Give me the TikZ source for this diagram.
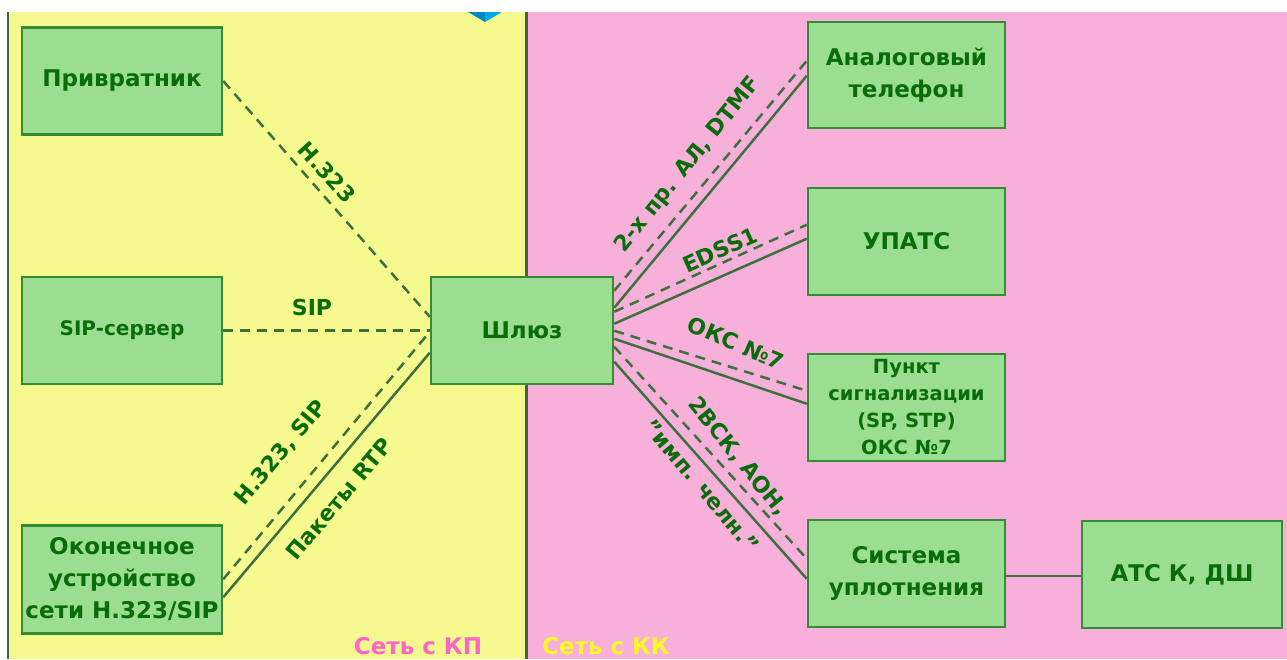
\documentclass[tikz,border=0pt]{standalone}
\usepackage{fontspec}
\setmainfont{DejaVu Sans}
\usetikzlibrary{calc}
\definecolor{yel}{RGB}{246,250,142}
\definecolor{pnk}{RGB}{246,176,218}
\definecolor{boxfill}{RGB}{155,222,145}
\definecolor{boxline}{RGB}{52,140,52}
\definecolor{txt}{RGB}{8,108,8}
\definecolor{wire}{RGB}{62,112,62}
\definecolor{divider}{RGB}{62,102,62}
\definecolor{kp}{RGB}{255,100,200}
\definecolor{kk}{RGB}{255,248,40}
\definecolor{cubeL}{RGB}{0,135,200}
\definecolor{cubeR}{RGB}{0,170,230}
\begin{document}
\begin{tikzpicture}[x=1pt,y=-1pt,
  box/.style={draw=boxline, line width=2.5pt, fill=boxfill, minimum width=200pt,
    minimum height=107pt, inner sep=0pt, align=center, text=txt,
    font=\bfseries\fontsize{23}{32}\selectfont},
  sipbox/.style={box, font=\bfseries\fontsize{20}{27}\selectfont},
  stpbox/.style={box, font=\bfseries\fontsize{19.5}{27}\selectfont},
  sig/.style={draw=wire, line width=2.5pt, dash pattern=on 10pt off 7pt},
  media/.style={draw=wire, line width=2.5pt},
  lbl/.style={text=txt, font=\bfseries\fontsize{22}{24}\selectfont, inner sep=0pt},
  zone/.style={font=\bfseries\fontsize{23}{24}\selectfont, inner sep=0pt}]
\useasboundingbox (0,0) rectangle (1287,659);
\fill[white] (0,0) rectangle (1287,659);

% two network zones
\fill[yel] (8,12) rectangle (527,659);
\fill[pnk] (527,12) rectangle (1287,659);
\draw[divider, line width=2.5pt] (8,12) -- (8,659);
\draw[divider, line width=2.5pt] (526.5,12) -- (526.5,659);

% corner of the cube icon at the top edge
\fill[cubeL] (468,12) -- (485,22) -- (485,12) -- cycle;
\fill[cubeR] (485,12) -- (485,22) -- (502,12) -- cycle;

% packet-network side
\node[box] (gk) at (122,81) {Привратник};
\node[sipbox] (sip) at (122,330.5) {SIP-сервер};
\node[box, minimum height=108pt] (term) at (122,579.5) {Оконечное\\устройство\\сети H.323/SIP};

% gateway
\node[box, minimum width=182pt] (gw) at (522,330.5) {Шлюз};

% circuit-network side
\node[box, minimum width=197pt, minimum height=106pt] (tel) at (906.5,75) {Аналоговый\\телефон};
\node[box, minimum width=197pt] (pbx) at (906.5,241.5) {УПАТС};
\node[stpbox, minimum width=197pt] (stp) at (906.5,407.5) {Пункт\\сигнализации\\(SP, STP)\\ОКС №7};
\node[box, minimum width=197pt] (mux) at (906.5,573.5) {Система\\уплотнения};
\node[box] (ats) at (1182,574.5) {АТС К, ДШ};

% links to the gateway, left side
\draw[sig] (gk.east) -- ($(gw.north west)+(0,41)$);
\draw[sig] (sip.east) -- (gw.west);
\draw[sig] ($(term.north east)+(0,55)$) -- ($(gw.north west)+(0,56)$);
\draw[media] ($(term.north east)+(0,73)$) -- ($(gw.north west)+(0,77)$);

% links from the gateway, right side
\draw[sig] ($(gw.north east)+(0,15)$) -- ($(tel.north west)+(0,40)$);
\draw[media] ($(gw.north east)+(0,32)$) -- ($(tel.north west)+(0,55)$);
\draw[sig] ($(gw.north east)+(0,36)$) -- ($(pbx.north west)+(0,38)$);
\draw[media] ($(gw.north east)+(0,48)$) -- ($(pbx.north west)+(0,52)$);
\draw[sig] ($(gw.north east)+(0,55)$) -- ($(stp.north west)+(0,38)$);
\draw[media] ($(gw.north east)+(0,63)$) -- ($(stp.north west)+(0,51)$);
\draw[sig] ($(gw.north east)+(0,71)$) -- ($(mux.north west)+(0,40)$);
\draw[media] ($(gw.north east)+(0,86)$) -- ($(mux.north west)+(0,60)$);
\draw[media] ($(mux.north east)+(0,57)$) -- ($(ats.north west)+(0,56)$);

% protocol labels
\node[lbl, rotate=-48] (lh323) at (327,172) {H.323};
\node[lbl] (lsip) at (312,307) {SIP};
\node[lbl, rotate=50] (lsig) at (281,453) {H.323, SIP};
\node[lbl, rotate=50] (lrtp) at (339,499) {Пакеты RTP};
\node[lbl, rotate=51] (lal) at (688,165) {2-х пр. АЛ, DTMF};
\node[lbl, rotate=24] (ledss) at (720,250) {EDSS1};
\node[lbl, rotate=-23] (loks) at (736,343) {ОКС №7};
\node[lbl, rotate=-51] (lvsk) at (738,457) {2ВСК, АОН,};
\node[lbl, rotate=-50] (limp) at (702,486) {"имп. челн."};

% zone captions
\node[zone, text=kp] (zkp) at (418,646) {Сеть с КП};
\node[zone, text=kk] (zkk) at (606,646) {Сеть с КК};
\end{tikzpicture}
\end{document}
